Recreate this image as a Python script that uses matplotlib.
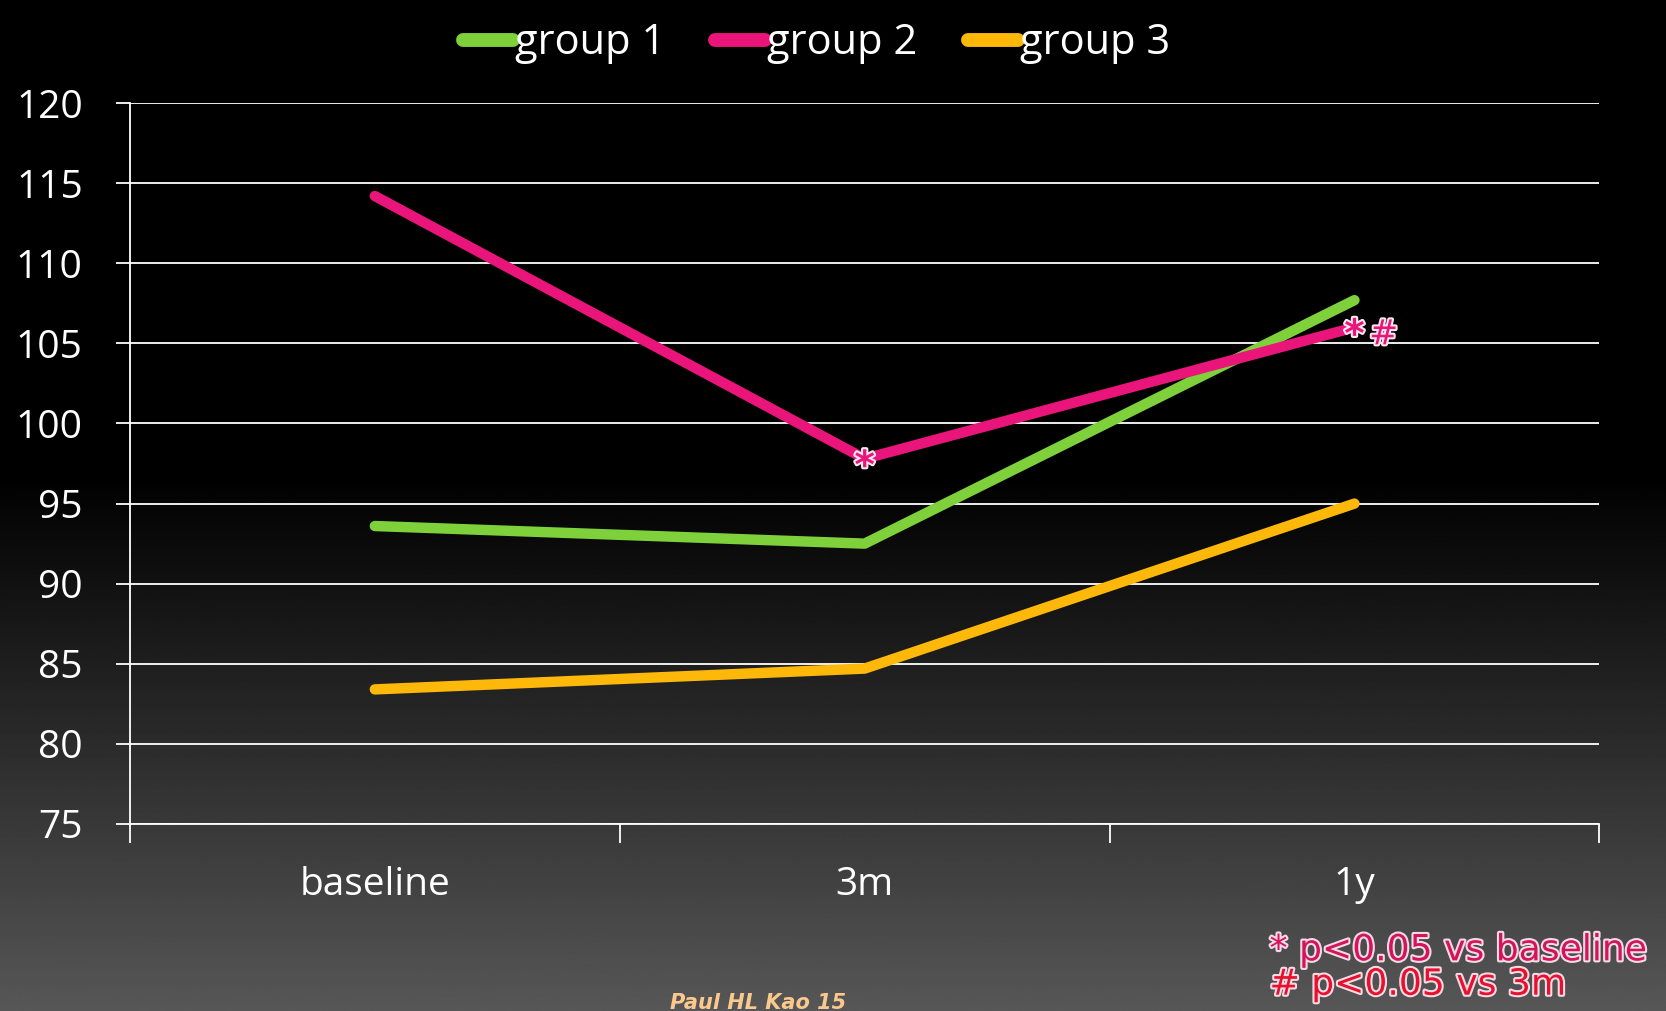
import matplotlib
matplotlib.use("Agg")
from matplotlib import pyplot as plt
import matplotlib.patheffects as pe
import numpy as np

# Data
periods = ['baseline', '3m', '1y']
group1 = [93.6, 92.5, 107.7]
group2 = [114.2, 97.8, 106.0]
group3 = [83.4, 84.7, 95.0]
names = ['group 1', 'group 2', 'group 3']
colors = ['#7fd13b', '#ea157a', '#feb80a']
yticks = list(range(75, 121, 5))

fig = plt.figure(figsize=(16.66, 10.11), dpi=100)

# dark slide background: black on top, fading to grey at the bottom
bg = fig.add_axes([0, 0, 1, 1], zorder=-10)
rows = np.linspace(0, 1, 500)
shade = np.clip((rows - 0.47) / 0.53, 0, 1) * 0.34
bg.imshow(np.repeat(shade[:, None], 2, axis=1), cmap='gray', vmin=0, vmax=1,
          aspect='auto', extent=[0, 1, 1, 0])
bg.axis('off')

ax = fig.add_axes([0.078, 0.185, 0.882, 0.713])
ax.set_facecolor('none')

x = np.arange(len(periods))
for vals, name, c in zip([group1, group2, group3], names, colors):
    ax.plot(x, vals, color=c, lw=7.5, solid_capstyle='round',
            solid_joinstyle='round', label=name)

ax.set_xlim(-0.5, 2.5)
ax.set_ylim(75, 120)
ax.set_yticks(yticks)
ax.set_yticklabels([str(v) for v in yticks])
ax.grid(axis='y', color='white', lw=1.3)
ax.set_axisbelow(True)

ax.set_xticks([-0.5, 0.5, 1.5, 2.5])
ax.set_xticklabels([])
ax.set_xticks(x, minor=True)
ax.set_xticklabels(periods, minor=True, fontsize=28, color='white',
                   family='Open Sans')
ax.tick_params(axis='x', which='major', length=14, width=1.3, color='white',
               direction='out')
ax.tick_params(axis='x', which='minor', length=0, pad=30)
ax.tick_params(axis='y', length=10, width=1.3, color='white', labelsize=28,
               labelcolor='white', pad=24)
for lab in ax.get_yticklabels():
    lab.set_family('Open Sans')

for s in ['top', 'right']:
    ax.spines[s].set_visible(False)
for s in ['left', 'bottom']:
    ax.spines[s].set_color('white')
    ax.spines[s].set_linewidth(1.3)

# significance marks on group 2
outline = [pe.withStroke(linewidth=3, foreground='#fde6ef')]
ax.annotate('*', (1, group2[1]), xytext=(0, -6), textcoords='offset points',
            color=colors[1], fontsize=28, ha='center', va='center',
            fontweight='bold', path_effects=outline)
ax.annotate('*', (2, group2[2]), xytext=(0, -6), textcoords='offset points',
            color=colors[1], fontsize=28, ha='center', va='center',
            fontweight='bold', path_effects=outline)
ax.annotate('#', (2, group2[2]), xytext=(21, -5), textcoords='offset points',
            color=colors[1], fontsize=25, ha='center', va='center',
            path_effects=outline)

leg = fig.legend(loc='upper center', bbox_to_anchor=(0.49, 1.015), ncol=3,
                 frameon=False, handlelength=1.2,
                 handletextpad=0.05, columnspacing=1.2,
                 prop={'family': 'Open Sans', 'size': 30})
for t in leg.get_texts():
    t.set_color('white')
for h in leg.get_lines():
    h.set_linewidth(10)

note_fx = [pe.withStroke(linewidth=3, foreground='#f6dbe6')]
fig.text(0.762, 0.060, '* p<0.05 vs baseline', color='#d4145a', fontsize=26,
         ha='left', va='center', path_effects=note_fx)
fig.text(0.762, 0.026, '# p<0.05 vs 3m', color='#e8112d', fontsize=26,
         ha='left', va='center', path_effects=note_fx)

fig.text(0.455, 0.008, 'Paul HL Kao 15', color='#fbc98e', fontsize=15,
         style='italic', fontweight='bold', ha='center', va='center')

fig.savefig('out.png', dpi=100)
